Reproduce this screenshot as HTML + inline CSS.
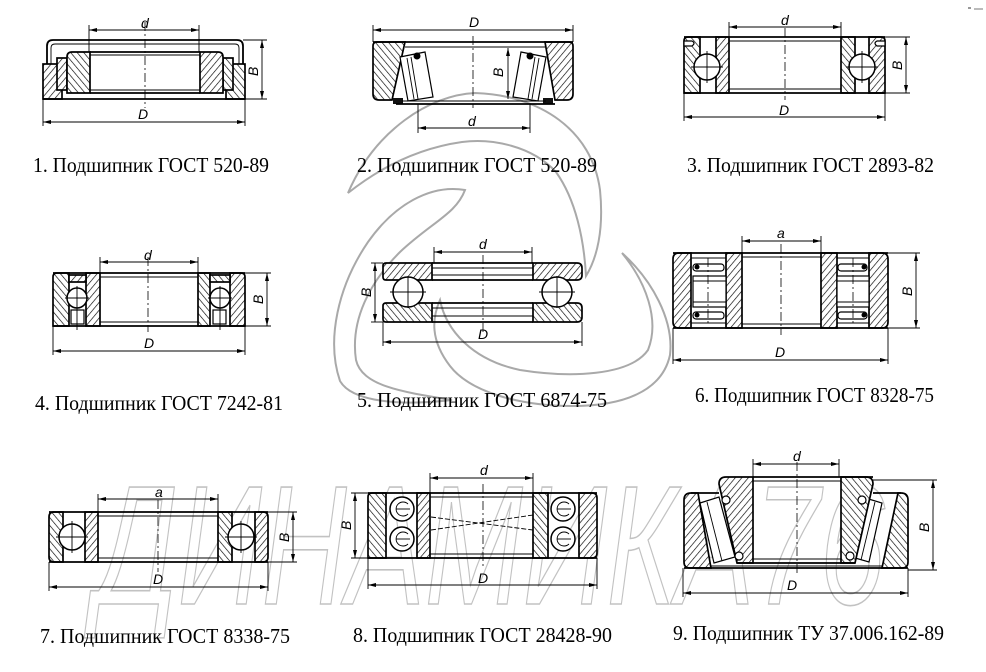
<!DOCTYPE html>
<html><head><meta charset="utf-8"><style>
html,body{margin:0;padding:0;background:#fff}
svg{display:block}
.o{fill:none;stroke:#000;stroke-width:1.8}
.t{fill:none;stroke:#000;stroke-width:0.9}
.c{fill:none;stroke:#000;stroke-width:0.8;stroke-dasharray:9 3 2 3}
.hA{fill:url(#h1);stroke:#000;stroke-width:1.7}
.hB{fill:url(#h2);stroke:#000;stroke-width:1.7}
.b{fill:#fff;stroke:#000;stroke-width:1.5}
.w{fill:#fff;stroke:#000;stroke-width:1.2}
.dim{stroke:#000;stroke-width:0.9;fill:none;marker-start:url(#a);marker-end:url(#a)}
.lb{font-family:"Liberation Sans",sans-serif;font-style:italic;font-size:14px;fill:#000}
.cap{font-family:"Liberation Serif","Noto Serif CJK SC",serif;font-size:21px;fill:#000}
.wm{fill:none;stroke:#a9a9a9;stroke-width:2}
.wt{font-family:"Liberation Sans",sans-serif;font-style:italic;font-size:170px;fill:none;stroke:#c2c2c2;stroke-width:1.6}
</style></head><body>
<svg width="986" height="672" viewBox="0 0 986 672" xmlns="http://www.w3.org/2000/svg">
<defs>
<pattern id="h1" patternUnits="userSpaceOnUse" width="5" height="5" patternTransform="rotate(40)"><rect width="5" height="5" fill="#fff"/><line x1="0" y1="0" x2="0" y2="5" stroke="#000" stroke-width="1.3"/></pattern>
<pattern id="h2" patternUnits="userSpaceOnUse" width="5" height="5" patternTransform="rotate(-40)"><rect width="5" height="5" fill="#fff"/><line x1="0" y1="0" x2="0" y2="5" stroke="#000" stroke-width="1.3"/></pattern>
<marker id="a" viewBox="0 0 8 4" refX="8" refY="2" markerWidth="8" markerHeight="4" markerUnits="userSpaceOnUse" orient="auto-start-reverse"><path d="M0,0 L8,2 L0,4 Z" fill="#000"/></marker>
</defs>
<rect width="986" height="672" fill="#fff"/>

<!-- watermark text -->
<text class="wt" x="95" y="604" textLength="790" lengthAdjust="spacingAndGlyphs">ДИНАМИКА76</text>

<!-- watermark logo -->
<path class="wm" d="M348,193 C375,130 430,95 475,93 C540,95 592,130 600,190 C604,230 597,258 586,276 C584,240 576,200 556,172 C532,146 492,138 462,142 C420,148 382,166 348,193 Z"/>
<path class="wm" d="M622,253 C652,280 674,320 670,355 C662,392 622,406 572,406 C520,406 470,392 450,366 C430,340 432,318 440,300 C446,330 472,360 520,370 C570,378 630,376 648,350 C660,320 646,282 622,253 Z"/>
<path class="wm" d="M465,190 C430,184 394,205 368,242 C338,286 326,340 340,381 C352,402 400,406 452,400 C402,392 362,386 356,360 C350,320 370,282 400,252 C432,222 456,214 465,190 Z"/>

<!-- ===== D1 ===== -->
<path class="o" d="M47,64 V46 Q47,40 53,40 H237 Q243,40 243,46 V64"/>
<path class="t" d="M51,64 V48 Q51,44 55,44 H235 Q239,44 239,48 V64"/>
<rect class="hA" x="43" y="64" width="19" height="35"/>
<rect class="hB" x="226" y="64" width="19" height="35"/>
<rect class="hA" x="57" y="58" width="10" height="32"/>
<rect class="hB" x="223" y="58" width="10" height="32"/>
<path class="hB" d="M67,57 Q67,52 72,52 H90 V93 H67 Z"/>
<path class="hA" d="M200,52 H218 Q223,52 223,57 V93 H200 Z"/>
<line class="o" x1="43" y1="99" x2="245" y2="99"/>
<line class="o" x1="90" y1="52" x2="200" y2="52"/>
<line class="t" x1="90" y1="55" x2="200" y2="55"/>
<line class="t" x1="90" y1="90" x2="200" y2="90"/>
<line class="o" x1="90" y1="93" x2="200" y2="93"/>
<line class="c" x1="145" y1="22" x2="145" y2="108"/>
<line class="t" x1="89" y1="25" x2="89" y2="52"/><line class="t" x1="199" y1="25" x2="199" y2="52"/>
<line class="dim" x1="89" y1="30" x2="199" y2="30"/>
<text class="lb" x="141" y="28">d</text>
<line class="t" x1="43" y1="99" x2="43" y2="126"/><line class="t" x1="245" y1="99" x2="245" y2="126"/>
<line class="dim" x1="43" y1="122" x2="245" y2="122"/>
<text class="lb" x="138" y="119">D</text>
<line class="t" x1="243" y1="40" x2="267" y2="40"/><line class="t" x1="245" y1="99" x2="267" y2="99"/>
<line class="dim" x1="262" y1="40" x2="262" y2="99"/>
<text class="lb" transform="translate(258,76) rotate(-90)">B</text>

<!-- ===== D2 ===== -->
<path class="hB" d="M373,46 Q373,42 377,42 H405 L392,100 H379 Q373,100 373,94 Z"/>
<path class="hA" d="M545,42 H569 Q573,42 573,46 V94 Q573,100 567,100 H555 Z"/>
<line class="o" x1="373" y1="42" x2="573" y2="42"/>
<line class="t" x1="405" y1="47" x2="545" y2="47"/>
<polygon class="w" points="400,57 425,52 433,97 408,101"/>
<line class="t" x1="407" y1="58" x2="414" y2="99"/><line class="t" x1="411" y1="57" x2="418" y2="99"/>
<polygon class="w" points="521,52 546,57 538,101 513,97"/>
<line class="t" x1="539" y1="58" x2="532" y2="99"/><line class="t" x1="535" y1="57" x2="528" y2="99"/>
<circle cx="417" cy="56" r="3.5" fill="#000"/><circle cx="530" cy="56" r="3.5" fill="#000"/>
<rect x="393" y="98" width="10" height="6" fill="#111"/><rect x="543" y="98" width="10" height="6" fill="#111"/>
<line class="o" x1="396" y1="104" x2="555" y2="104"/>
<line class="t" x1="402" y1="101" x2="546" y2="101"/>
<line class="c" x1="473" y1="36" x2="473" y2="108"/>
<line class="t" x1="373" y1="25" x2="373" y2="42"/><line class="t" x1="573" y1="25" x2="573" y2="42"/>
<line class="dim" x1="373" y1="30" x2="573" y2="30"/>
<text class="lb" x="469" y="27">D</text>
<line class="t" x1="418" y1="104" x2="418" y2="133"/><line class="t" x1="530" y1="104" x2="530" y2="133"/>
<line class="dim" x1="418" y1="128" x2="530" y2="128"/>
<text class="lb" x="468" y="126">d</text>
<line class="dim" x1="508" y1="48" x2="508" y2="99"/>
<text class="lb" transform="translate(503,77) rotate(-90)">B</text>

<!-- ===== D3 ===== -->
<path class="hB" d="M684,41 Q684,37 688,37 H700 V93 H684 Z"/>
<path class="w" d="M684,41 H692 Q696,43 692,46 H684 Z"/>
<rect class="hA" x="716" y="37" width="13" height="56"/>
<rect class="hB" x="841" y="37" width="14" height="56"/>
<path class="hA" d="M869,37 H881 Q885,37 885,41 V93 H869 Z"/>
<path class="w" d="M885,41 H877 Q873,43 877,46 H885 Z"/>
<circle class="b" cx="707" cy="67" r="13"/>
<line class="t" x1="691" y1="67" x2="723" y2="67"/><line class="t" x1="707" y1="51" x2="707" y2="83"/>
<circle class="b" cx="862" cy="67" r="13"/>
<line class="t" x1="846" y1="67" x2="878" y2="67"/><line class="t" x1="862" y1="51" x2="862" y2="83"/>
<line class="o" x1="684" y1="37" x2="885" y2="37"/>
<line class="t" x1="729" y1="41" x2="841" y2="41"/>
<line class="t" x1="729" y1="89" x2="841" y2="89"/>
<line class="o" x1="684" y1="93" x2="885" y2="93"/>
<line class="c" x1="785" y1="28" x2="785" y2="100"/>
<line class="t" x1="729" y1="22" x2="729" y2="37"/><line class="t" x1="841" y1="22" x2="841" y2="37"/>
<line class="dim" x1="729" y1="27" x2="841" y2="27"/>
<text class="lb" x="781" y="25">d</text>
<line class="t" x1="684" y1="93" x2="684" y2="121"/><line class="t" x1="885" y1="93" x2="885" y2="121"/>
<line class="dim" x1="684" y1="117" x2="885" y2="117"/>
<text class="lb" x="779" y="115">D</text>
<line class="t" x1="885" y1="37" x2="910" y2="37"/><line class="t" x1="885" y1="93" x2="910" y2="93"/>
<line class="dim" x1="906" y1="37" x2="906" y2="93"/>
<text class="lb" transform="translate(902,70) rotate(-90)">B</text>
<rect x="968" y="7" width="3" height="2" fill="#999"/><rect x="974" y="8" width="9" height="2" fill="#bbb"/>

<!-- ===== D4 ===== -->
<path class="hB" d="M53,277 Q53,273 57,273 H69 V326 H53 Z"/>
<rect class="hA" x="86" y="273" width="14" height="53"/>
<rect class="hA" x="69" y="275" width="17" height="7"/>
<rect class="w" x="71" y="310" width="13" height="14"/>
<circle class="b" cx="77" cy="298" r="10"/>
<line class="t" x1="65" y1="298" x2="89" y2="298"/><line class="t" x1="77" y1="286" x2="77" y2="330"/>
<rect class="hB" x="198" y="273" width="12" height="53"/>
<path class="hA" d="M230,273 H241 Q245,273 245,277 V326 H230 Z"/>
<rect class="hB" x="210" y="275" width="20" height="7"/>
<rect class="w" x="213" y="310" width="13" height="14"/>
<circle class="b" cx="220" cy="298" r="10"/>
<line class="t" x1="208" y1="298" x2="232" y2="298"/><line class="t" x1="220" y1="286" x2="220" y2="330"/>
<line class="o" x1="53" y1="273" x2="245" y2="273"/>
<line class="t" x1="100" y1="277" x2="198" y2="277"/>
<line class="t" x1="100" y1="322" x2="198" y2="322"/>
<line class="o" x1="53" y1="326" x2="245" y2="326"/>
<line class="c" x1="148" y1="257" x2="148" y2="332"/>
<line class="t" x1="100" y1="257" x2="100" y2="273"/><line class="t" x1="198" y1="257" x2="198" y2="273"/>
<line class="dim" x1="100" y1="262" x2="198" y2="262"/>
<text class="lb" x="144" y="260">d</text>
<line class="t" x1="53" y1="326" x2="53" y2="355"/><line class="t" x1="245" y1="326" x2="245" y2="355"/>
<line class="dim" x1="53" y1="351" x2="245" y2="351"/>
<text class="lb" x="144" y="348">D</text>
<line class="t" x1="245" y1="273" x2="271" y2="273"/><line class="t" x1="245" y1="326" x2="271" y2="326"/>
<line class="dim" x1="267" y1="273" x2="267" y2="326"/>
<text class="lb" transform="translate(263,304) rotate(-90)">B</text>

<!-- ===== D5 ===== -->
<path class="hA" d="M383,266 Q383,263 386,263 H432 V280 H386 Q383,280 383,277 Z"/>
<path class="hA" d="M533,263 H577 Q582,263 582,268 V275 Q582,280 577,280 H533 Z"/>
<path class="hB" d="M383,306 Q383,303 386,303 H432 V322 H386 Q383,322 383,319 Z"/>
<path class="hB" d="M533,303 H577 Q582,303 582,308 V317 Q582,322 577,322 H533 Z"/>
<line class="o" x1="432" y1="263" x2="533" y2="263"/>
<line class="t" x1="432" y1="268" x2="533" y2="268"/>
<line class="t" x1="432" y1="275" x2="533" y2="275"/>
<line class="o" x1="432" y1="280" x2="533" y2="280"/>
<line class="o" x1="432" y1="303" x2="533" y2="303"/>
<line class="t" x1="432" y1="308" x2="533" y2="308"/>
<line class="t" x1="432" y1="316" x2="533" y2="316"/>
<line class="o" x1="432" y1="322" x2="533" y2="322"/>
<circle class="b" cx="408" cy="292" r="15"/>
<line class="t" x1="390" y1="292" x2="426" y2="292"/><line class="t" x1="408" y1="276" x2="408" y2="308"/>
<circle class="b" cx="557" cy="292" r="15"/>
<line class="t" x1="539" y1="292" x2="575" y2="292"/><line class="t" x1="557" y1="276" x2="557" y2="308"/>
<line class="c" x1="483" y1="255" x2="483" y2="332"/>
<line class="t" x1="434" y1="247" x2="434" y2="263"/><line class="t" x1="532" y1="247" x2="532" y2="263"/>
<line class="dim" x1="434" y1="252" x2="532" y2="252"/>
<text class="lb" x="479" y="249">d</text>
<line class="t" x1="383" y1="322" x2="383" y2="346"/><line class="t" x1="582" y1="322" x2="582" y2="346"/>
<line class="dim" x1="383" y1="342" x2="582" y2="342"/>
<text class="lb" x="478" y="339">D</text>
<line class="t" x1="371" y1="263" x2="383" y2="263"/><line class="t" x1="371" y1="322" x2="383" y2="322"/>
<line class="dim" x1="375" y1="263" x2="375" y2="322"/>
<text class="lb" transform="translate(371,297) rotate(-90)">B</text>

<!-- ===== D6 ===== -->
<path class="hA" d="M673,259 Q673,253 679,253 H691 V328 H679 Q673,328 673,322 Z"/>
<rect class="hA" x="726" y="253" width="16" height="75"/>
<rect class="hA" x="821" y="253" width="16" height="75"/>
<path class="hA" d="M869,253 H882 Q888,253 888,259 V322 Q888,328 882,328 H869 Z"/>
<line class="t" x1="691" y1="258" x2="726" y2="258"/><line class="t" x1="691" y1="323" x2="726" y2="323"/>
<rect class="w" x="693" y="264" width="31" height="7" rx="3"/>
<rect class="w" x="693" y="312" width="31" height="7" rx="3"/>
<rect class="w" x="693" y="276" width="33" height="31"/>
<line class="t" x1="693" y1="281" x2="726" y2="281"/><line class="t" x1="693" y1="302" x2="726" y2="302"/>
<circle cx="697" cy="267" r="2.5" fill="#000"/><circle cx="697" cy="315" r="2.5" fill="#000"/>
<line class="t" x1="837" y1="258" x2="869" y2="258"/><line class="t" x1="837" y1="323" x2="869" y2="323"/>
<rect class="w" x="838" y="264" width="29" height="7" rx="3"/>
<rect class="w" x="838" y="312" width="29" height="7" rx="3"/>
<rect class="w" x="837" y="276" width="32" height="31"/>
<line class="t" x1="837" y1="281" x2="869" y2="281"/><line class="t" x1="837" y1="302" x2="869" y2="302"/>
<circle cx="864" cy="267" r="2.5" fill="#000"/><circle cx="864" cy="315" r="2.5" fill="#000"/>
<line class="c" x1="708" y1="258" x2="708" y2="325"/><line class="c" x1="853" y1="258" x2="853" y2="325"/>
<line class="o" x1="673" y1="253" x2="888" y2="253"/>
<line class="t" x1="742" y1="257" x2="821" y2="257"/>
<line class="t" x1="742" y1="324" x2="821" y2="324"/>
<line class="o" x1="673" y1="328" x2="888" y2="328"/>
<line class="c" x1="781" y1="244" x2="781" y2="335"/>
<line class="t" x1="742" y1="236" x2="742" y2="253"/><line class="t" x1="821" y1="236" x2="821" y2="253"/>
<line class="dim" x1="742" y1="241" x2="821" y2="241"/>
<text class="lb" x="777" y="238">a</text>
<line class="t" x1="673" y1="328" x2="673" y2="364"/><line class="t" x1="888" y1="328" x2="888" y2="364"/>
<line class="dim" x1="673" y1="360" x2="888" y2="360"/>
<text class="lb" x="775" y="357">D</text>
<line class="t" x1="888" y1="253" x2="920" y2="253"/><line class="t" x1="888" y1="328" x2="920" y2="328"/>
<line class="dim" x1="916" y1="253" x2="916" y2="328"/>
<text class="lb" transform="translate(912,296) rotate(-90)">B</text>

<!-- ===== D7 ===== -->
<path class="hB" d="M49,517 Q49,512 54,512 H63 V562 H54 Q49,562 49,557 Z"/>
<rect class="hA" x="85" y="512" width="13" height="50"/>
<rect class="hB" x="218" y="512" width="14" height="50"/>
<path class="hA" d="M255,512 H263 Q268,512 268,517 V557 Q268,562 263,562 H255 Z"/>
<circle class="b" cx="72" cy="537" r="13"/>
<line class="t" x1="56" y1="537" x2="88" y2="537"/><line class="t" x1="72" y1="521" x2="72" y2="553"/>
<circle class="b" cx="241" cy="537" r="13"/>
<line class="t" x1="225" y1="537" x2="257" y2="537"/><line class="t" x1="241" y1="521" x2="241" y2="553"/>
<line class="o" x1="49" y1="512" x2="268" y2="512"/>
<line class="t" x1="98" y1="516" x2="218" y2="516"/>
<line class="t" x1="98" y1="558" x2="218" y2="558"/>
<line class="o" x1="49" y1="562" x2="268" y2="562"/>
<line class="c" x1="158" y1="500" x2="158" y2="572"/>
<line class="t" x1="98" y1="494" x2="98" y2="512"/><line class="t" x1="218" y1="494" x2="218" y2="512"/>
<line class="dim" x1="98" y1="499" x2="218" y2="499"/>
<text class="lb" x="155" y="497">a</text>
<line class="t" x1="49" y1="562" x2="49" y2="591"/><line class="t" x1="268" y1="562" x2="268" y2="591"/>
<line class="dim" x1="49" y1="587" x2="268" y2="587"/>
<text class="lb" x="153" y="584">D</text>
<line class="t" x1="268" y1="512" x2="297" y2="512"/><line class="t" x1="268" y1="562" x2="297" y2="562"/>
<line class="dim" x1="293" y1="512" x2="293" y2="562"/>
<text class="lb" transform="translate(289,542) rotate(-90)">B</text>

<!-- ===== D8 ===== -->
<path class="hB" d="M368,497 Q368,493 372,493 H386 V558 H368 Z"/>
<rect class="hA" x="417" y="493" width="13" height="65"/>
<rect class="hB" x="533" y="493" width="15" height="65"/>
<path class="hA" d="M579,493 H592 Q597,493 597,498 V553 Q597,558 592,558 H579 Z"/>
<g>
<circle class="b" cx="402" cy="509" r="12"/><circle class="b" cx="402" cy="539" r="12"/>
<path class="t" d="M408,504 A7,7 0 1 0 408,514"/><path class="t" d="M408,534 A7,7 0 1 0 408,544"/>
<line class="t" x1="396" y1="509" x2="410" y2="509"/><line class="t" x1="396" y1="539" x2="410" y2="539"/>
<circle class="b" cx="563" cy="509" r="12"/><circle class="b" cx="563" cy="539" r="12"/>
<path class="t" d="M569,504 A7,7 0 1 0 569,514"/><path class="t" d="M569,534 A7,7 0 1 0 569,544"/>
<line class="t" x1="557" y1="509" x2="571" y2="509"/><line class="t" x1="557" y1="539" x2="571" y2="539"/>
</g>
<line class="o" x1="368" y1="493" x2="597" y2="493"/>
<line class="t" x1="430" y1="497" x2="533" y2="497"/>
<line class="t" x1="430" y1="554" x2="533" y2="554"/>
<line class="o" x1="368" y1="558" x2="597" y2="558"/>
<line class="t" x1="431" y1="517" x2="533" y2="530" stroke-dasharray="5 2"/>
<line class="t" x1="431" y1="530" x2="533" y2="515" stroke-dasharray="5 2"/>
<line class="c" x1="483" y1="484" x2="483" y2="566"/>
<line class="t" x1="430" y1="473" x2="430" y2="493"/><line class="t" x1="533" y1="473" x2="533" y2="493"/>
<line class="dim" x1="430" y1="478" x2="533" y2="478"/>
<text class="lb" x="480" y="475">d</text>
<line class="t" x1="368" y1="558" x2="368" y2="589"/><line class="t" x1="597" y1="558" x2="597" y2="589"/>
<line class="dim" x1="368" y1="585" x2="597" y2="585"/>
<text class="lb" x="478" y="583">D</text>
<line class="t" x1="351" y1="493" x2="368" y2="493"/><line class="t" x1="351" y1="558" x2="368" y2="558"/>
<line class="dim" x1="355" y1="493" x2="355" y2="558"/>
<text class="lb" transform="translate(351,530) rotate(-90)">B</text>

<!-- ===== D9 ===== -->
<path class="hA" d="M684,500 Q684,493 691,493 H698 L711,568 H690 Q684,568 684,562 Z"/>
<path class="hB" d="M898,493 H901 Q908,493 908,500 V562 Q908,568 902,568 H882 Z"/>
<polygon class="w" points="700,503 719,497 735,557 714,563"/>
<line class="t" x1="707" y1="502" x2="722" y2="561"/>
<polygon class="w" points="862,497 882,503 869,562 848,556"/>
<line class="t" x1="875" y1="502" x2="861" y2="560"/>
<path class="hA" d="M719,484 Q719,477 726,477 H753 V563 H737 Z"/>
<path class="hB" d="M841,477 H866 Q873,477 873,484 L855,563 H841 Z"/>
<circle class="w" cx="726" cy="500" r="4"/><circle class="w" cx="739" cy="556" r="4"/>
<circle class="w" cx="862" cy="500" r="4"/><circle class="w" cx="850" cy="556" r="4"/>
<line class="o" x1="753" y1="477" x2="873" y2="477"/>
<line class="t" x1="753" y1="481" x2="841" y2="481"/>
<line class="t" x1="753" y1="559" x2="841" y2="559"/>
<line class="o" x1="737" y1="563" x2="855" y2="563"/>
<line class="t" x1="711" y1="566" x2="882" y2="566"/>
<line class="o" x1="684" y1="568" x2="908" y2="568"/>
<line class="o" x1="691" y1="493" x2="719" y2="493"/>
<line class="o" x1="873" y1="493" x2="901" y2="493"/>
<line class="c" x1="797" y1="462" x2="797" y2="576"/>
<line class="t" x1="753" y1="459" x2="753" y2="477"/><line class="t" x1="839" y1="459" x2="839" y2="477"/>
<line class="dim" x1="753" y1="464" x2="839" y2="464"/>
<text class="lb" x="793" y="461">d</text>
<line class="t" x1="683" y1="568" x2="683" y2="597"/><line class="t" x1="908" y1="568" x2="908" y2="597"/>
<line class="dim" x1="683" y1="593" x2="908" y2="593"/>
<text class="lb" x="787" y="590">D</text>
<line class="t" x1="873" y1="480" x2="937" y2="480"/><line class="t" x1="908" y1="570" x2="937" y2="570"/>
<line class="dim" x1="933" y1="480" x2="933" y2="570"/>
<text class="lb" transform="translate(929,532) rotate(-90)">B</text>

<!-- captions -->
<text class="cap" x="33" y="172" textLength="236" lengthAdjust="spacingAndGlyphs">1. Подшипник ГОСТ 520-89</text>
<text class="cap" x="357" y="172" textLength="240" lengthAdjust="spacingAndGlyphs">2. Подшипник ГОСТ 520-89</text>
<text class="cap" x="687" y="172" textLength="247" lengthAdjust="spacingAndGlyphs">3. Подшипник ГОСТ 2893-82</text>
<text class="cap" x="35" y="410" textLength="248" lengthAdjust="spacingAndGlyphs">4. Подшипник ГОСТ 7242-81</text>
<text class="cap" x="357" y="407" textLength="250" lengthAdjust="spacingAndGlyphs">5. Подшипник ГОСТ 6874-75</text>
<text class="cap" x="695" y="402" textLength="239" lengthAdjust="spacingAndGlyphs">6. Подшипник ГОСТ 8328-75</text>
<text class="cap" x="40" y="643" textLength="250" lengthAdjust="spacingAndGlyphs">7. Подшипник ГОСТ 8338-75</text>
<text class="cap" x="353" y="642" textLength="259" lengthAdjust="spacingAndGlyphs">8. Подшипник ГОСТ 28428-90</text>
<text class="cap" x="673" y="640" textLength="271" lengthAdjust="spacingAndGlyphs">9. Подшипник ТУ 37.006.162-89</text>
</svg>
</body></html>
